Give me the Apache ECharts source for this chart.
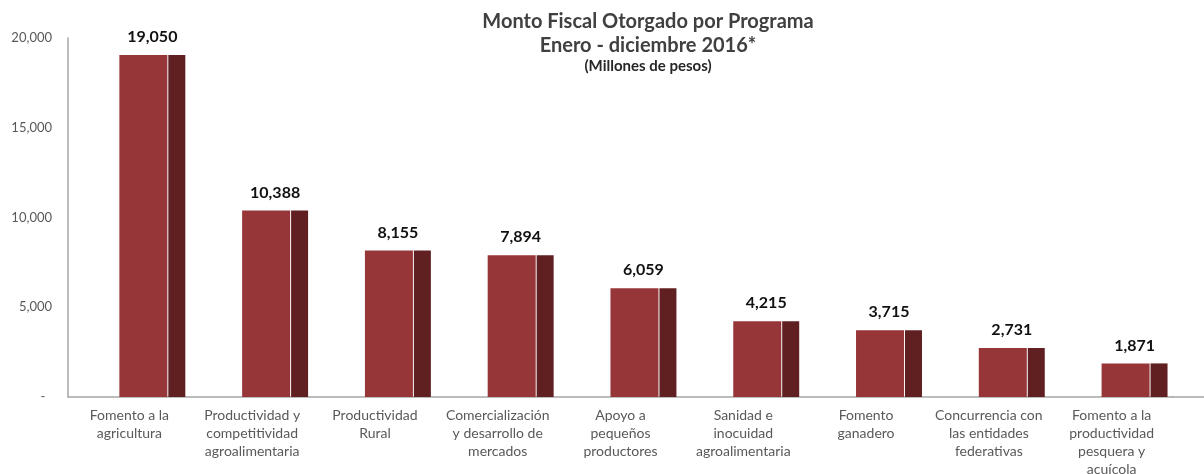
<!DOCTYPE html>
<html>
<head>
<meta charset="utf-8">
<script src="https://cdn.jsdelivr.net/npm/echarts@6/dist/echarts.min.js"></script>
<style>
  html, body { margin: 0; padding: 0; background: #fff; }
  #main { width: 1204px; height: 474px; }
</style>
</head>
<body>
<div id="main"></div>
<script>
// programas (etiquetas del eje x)
var programas = [
    'Fomento a la\nagricultura',
    'Productividad y\ncompetitividad\nagroalimentaria',
    'Productividad\nRural',
    'Comercialización\ny desarrollo de\nmercados',
    'Apoyo a\npequeños\nproductores',
    'Sanidad e\ninocuidad\nagroalimentaria',
    'Fomento\nganadero',
    'Concurrencia con\nlas entidades\nfederativas',
    'Fomento a la\nproductividad\npesquera y\nacuícola'
];
// monto en millones de pesos
var montos = [19050, 10388, 8155, 7894, 6059, 4215, 3715, 2731, 1871];
var ticksY = [0, 5000, 10000, 15000, 20000];

var fmt = function (v) {
    if (v == 0) return '-  ';
    return String(v).replace(/\B(?=(\d{3})+(?!\d))/g, ',');
};

var chart = echarts.init(document.getElementById('main'));
var option = {
    backgroundColor: '#fff',
    animation: false,
    textStyle: { fontFamily: 'Lato' },
    title: [
        {
            text: 'Monto Fiscal Otorgado por Programa\nEnero - diciembre 2016*',
            left: 643, top: 5, textAlign: 'center',
            textStyle: { fontSize: 20, fontWeight: 'bold', color: '#404040', lineHeight: 24, fontFamily: 'Lato' }
        },
        {
            text: '(Millones de pesos)',
            left: 643, top: 54, textAlign: 'center',
            textStyle: { fontSize: 15, fontWeight: 'bold', color: '#262626', fontFamily: 'Lato' }
        }
    ],
    grid: { left: 68, right: 31, top: 38, bottom: 77, outerBoundsMode: 'none' },
    xAxis: {
        type: 'category',
        data: programas,
        axisLine: { lineStyle: { color: '#a6a6a6', width: 1.5 } },
        axisTick: { show: false },
        axisLabel: { color: '#595959', fontSize: 14, lineHeight: 18, margin: 9, interval: 0 }
    },
    yAxis: {
        type: 'value',
        min: ticksY[0], max: ticksY[ticksY.length - 1], interval: 5000,
        axisLine: { show: true, lineStyle: { color: '#a6a6a6', width: 1.5 } },
        axisTick: { show: false },
        splitLine: { show: false },
        axisLabel: { color: '#595959', fontSize: 13, margin: 16, formatter: fmt }
    },
    graphic: [
        { type: 'line', shape: { x1: 1172, y1: 397, x2: 1204, y2: 397 }, style: { stroke: '#a6a6a6', lineWidth: 1.5 } }
    ],
    series: [
        {
            // espacio vacío para desplazar la barra a la derecha
            type: 'bar', barWidth: 45, silent: true,
            data: montos.map(function () { return null; }),
            itemStyle: { color: 'rgba(0,0,0,0)' }
        },
        {
            type: 'bar', barWidth: 48,
            data: montos,
            itemStyle: { color: '#973638' },
            label: {
                show: true, position: 'top', distance: 10, offset: [9, 0],
                fontSize: 16, fontWeight: 'bold', color: '#111',
                formatter: function (p) { return fmt(p.value); }
            }
        },
        {
            type: 'bar', barWidth: 17, barGap: '2%',
            data: montos,
            itemStyle: { color: '#602022' }
        }
    ]
};
chart.setOption(option);
</script>
</body>
</html>
